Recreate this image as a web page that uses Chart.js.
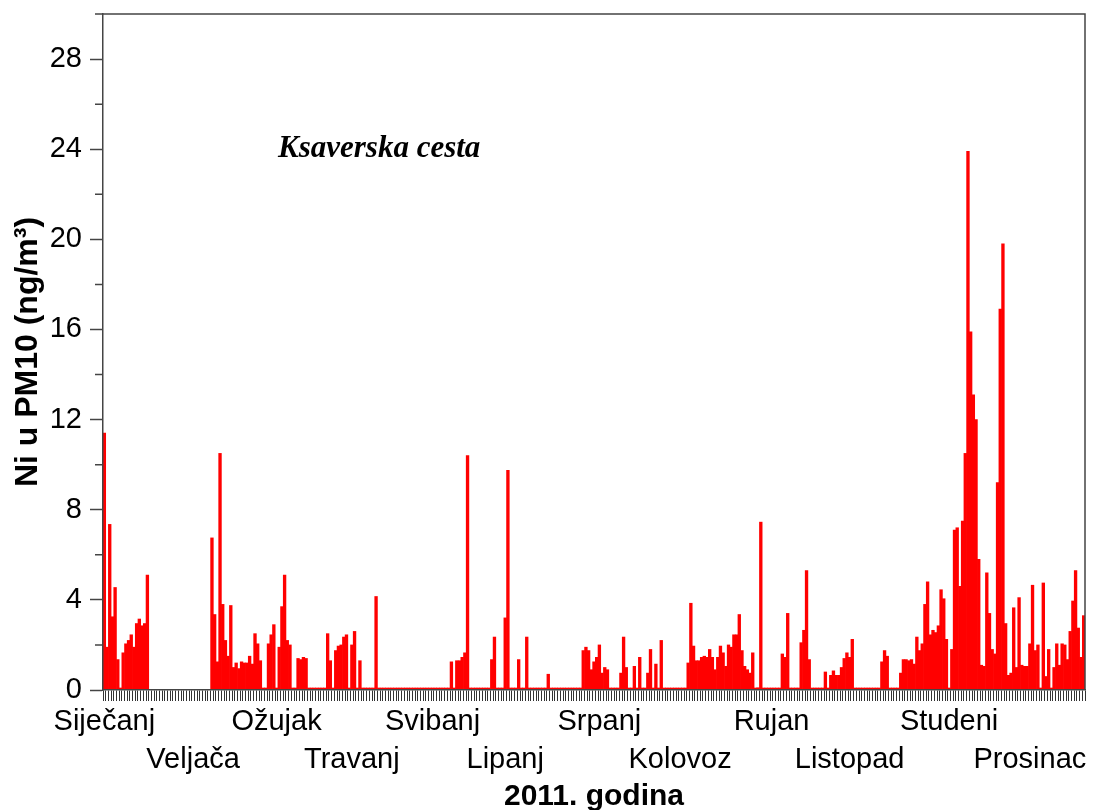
<!DOCTYPE html>
<html>
<head>
<meta charset="utf-8">
<script src="https://cdn.jsdelivr.net/npm/chart.js@4"></script>
<style>
  body{margin:0;background:#fff;}
</style>
</head>
<body>
<canvas id="myChart" width="1102" height="810"></canvas>
<script>

// dnevne vrijednosti Ni u PM10 (ng/m3), 2011. godina - null = nema mjerenja
const sijecanj=[11.4,1.9,7.35,3.25,4.55,1.35,0,1.65,2.05,2.2,2.45,1.9,2.95,3.15,2.85,2.95,5.1,
    null,null,null,null,null,null,null,null,null,null,null,null,null,null];
const veljaca=[null,null,null,null,null,null,null,null,null,
    6.75,3.35,1.25,10.5,3.8,2.2,1.5,3.75,1.0,1.2,0.95,1.25,1.2,1.2,1.5,1.15,2.5,2.05,1.3];
const ozujak=[0,0,2.05,2.45,2.9,0,1.9,3.7,5.1,2.2,2.0,0,0,1.4,1.35,1.45,1.4,
    0,0,0,0,0,0,0,2.5,1.3,0,1.75,1.95,2.0,2.35];
const travanj=[2.45,0,2.0,2.6,0,1.3,0,0,0,0,0,4.15,
    0,0,0,0,0,0,0,0,0,0,0,0,0,0,0,0,0,0];
const svibanj=[0,0,0,0,0,0,0,0,0,1.25,0,1.3,1.3,1.45,1.65,10.4,
    0,0,0,0,0,0,0,0,1.35,2.35,0,0,0,3.2,9.75];
const lipanj=[0,0,0,1.35,0,0,2.35,0,0,0,0,0,0,0,0.7,
    0,0,0,0,0,0,0,0,0,0,0,0,1.75,1.9,1.75];
const srpanj=[0.9,1.25,1.45,2.0,0.75,1.0,0.9,0,0,0,0,0.75,2.35,1.0,0,0,1.05,0,1.45,0,0,
    0.75,1.8,0,1.15,0,2.2,0,0,0,0];
const kolovoz=[0,0,0,0,0,1.2,3.85,1.95,1.3,1.3,1.45,1.5,1.45,1.8,1.45,0.9,1.45,1.95,1.65,1.05,
    2.0,1.9,2.45,2.45,3.35,1.75,1.05,0.9,0.75,1.65,0];
const rujan=[0.1,7.45,0,0,0,0,0,0,0,1.6,1.45,3.4,0,0,0,0,2.1,2.65,5.3,1.35,
    0,0,0,0,0,0.8,0,0.65,0.85,0.65];
const listopad=[0.65,1.0,1.4,1.65,1.45,2.25,0,0,0,0,0,0,0,0,0,0,1.25,1.75,1.5,0,0,0,0,
    0.75,1.35,1.35,1.3,1.35,1.15,2.35,1.75];
const studeni=[2.05,3.8,4.8,2.45,2.65,2.55,2.85,4.45,4.05,2.25,0,1.8,7.1,7.2,4.6,7.5,10.5,
    23.9,15.9,13.1,12.0,5.8,1.1,1.05,5.2,3.4,1.8,1.6,9.2,16.9];
const prosinac=[19.8,2.95,0.65,0.75,3.65,1.0,4.1,1.1,1.05,1.05,2.05,4.65,1.75,2.0,0,4.75,
    0.6,1.8,0,1.0,2.05,1.1,2.05,2.0,1.35,2.6,3.95,5.3,2.75,1.45,3.3];

const mjeseci=['Siječanj','Veljača','Ožujak','Travanj','Svibanj','Lipanj',
    'Srpanj','Kolovoz','Rujan','Listopad','Studeni','Prosinac'];
// dan (indeks) na kojem stoji naziv mjeseca ispod osi
const danNaziva=[0,33,64,92,122,149,184,214,248,277,314,344];

const yTicks=[0,4,8,12,16,20,24,28];
const yMinor=[2,6,10,14,18,22,26,30];

const naslov='Ksaverska cesta';

const vrijednosti=[].concat(sijecanj,veljaca,ozujak,travanj,svibanj,lipanj,
    srpanj,kolovoz,rujan,listopad,studeni,prosinac);

const dani=vrijednosti.map((v,i)=>String(i+1));

const fontSans='"Liberation Sans", Arial, sans-serif';
const bojaOsi='#444';

// okvir gore/desno, kratke crtice na y osi i natpis postaje
const dodaci={
    id:'dodaci',
    afterDraw(chart){
        const c=chart.ctx;
        const a=chart.chartArea;
        const y=chart.scales.y;
        c.save();
        c.strokeStyle=bojaOsi;
        c.lineWidth=1.5;
        c.beginPath();
        c.moveTo(a.left-8,a.top);
        c.lineTo(a.right,a.top);
        c.lineTo(a.right,a.bottom);
        yMinor.forEach(v=>{
            const py=y.getPixelForValue(v);
            c.moveTo(a.left-8,py);
            c.lineTo(a.left,py);
        });
        c.stroke();

        c.fillStyle='#000';
        c.font='italic bold 31px "Liberation Serif", "Times New Roman", serif';
        c.textBaseline='alphabetic';
        c.fillText(naslov,a.left+175,a.top+143);
        c.restore();
    }
};

function loadChart(){
    const ctx=document.getElementById('myChart');

    new Chart(ctx,{
        type:'bar',
        data:{
            labels:dani,
            datasets:[{
                label:'Ni u PM10',
                data:vrijednosti,
                backgroundColor:'#ff0000',
                borderWidth:0,
                barPercentage:1,
                categoryPercentage:1,
                minBarLength:2
            }]
        },
        options:{
            responsive:false,
            animation:false,
            devicePixelRatio:1,
            layout:{padding:{top:14,right:17,left:0,bottom:0}},
            plugins:{
                legend:{display:false},
                tooltip:{enabled:false}
            },
            scales:{
                x:{
                    offset:true,
                    grid:{drawOnChartArea:false,drawTicks:true,tickLength:11,tickColor:'#333',tickWidth:1},
                    border:{color:bojaOsi,width:1.5,z:1},
                    ticks:{
                        autoSkip:false,
                        maxRotation:0,
                        minRotation:0,
                        padding:2,
                        color:'#000',
                        font:{family:fontSans,size:29,lineHeight:'38px'},
                        callback:function(value,index){
                            const k=danNaziva.indexOf(index);
                            if(k<0) return '';
                            return k%2===0 ? [mjeseci[k],''] : ['',mjeseci[k]];
                        }
                    },
                    title:{
                        display:true,
                        text:'2011. godina',
                        color:'#000',
                        font:{family:fontSans,size:30,weight:'bold',lineHeight:'26px'},
                        padding:0
                    },
                    afterFit:function(scale){
                        scale.height=120;
                        scale.paddingLeft=0;
                        scale.paddingRight=0;
                    }
                },
                y:{
                    min:0,
                    max:30,
                    grid:{drawOnChartArea:false,drawTicks:true,tickLength:13,tickColor:bojaOsi,tickWidth:1.5},
                    border:{color:bojaOsi,width:1.5,z:1},
                    afterBuildTicks:function(scale){
                        scale.ticks=yTicks.map(v=>({value:v}));
                    },
                    ticks:{
                        padding:8,
                        color:'#000',
                        font:{family:fontSans,size:29}
                    },
                    title:{
                        display:true,
                        text:'Ni u PM10 (ng/m³)',
                        color:'#000',
                        font:{family:fontSans,size:32,weight:'bold',lineHeight:'30px'},
                        padding:{top:13,bottom:0}
                    },
                    afterFit:function(scale){
                        scale.width=103;
                        scale.paddingTop=0;
                        scale.paddingBottom=0;
                    }
                }
            }
        },
        plugins:[dodaci]
    });
}

loadChart();
</script>
</body>
</html>
